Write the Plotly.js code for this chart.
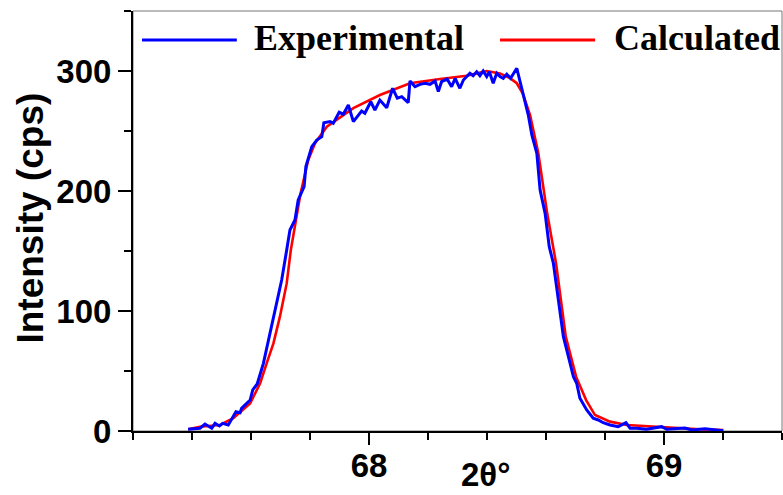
<!DOCTYPE html>
<html>
<head>
<meta charset="utf-8">
<script src="https://cdn.plot.ly/plotly-3.0.1.min.js"></script>
<style>html,body{margin:0;padding:0;background:#fff;}#chart{width:783px;height:495px;}</style>
</head>
<body>
<div id="chart"></div>
<script>
// Experimental pattern (2theta in degrees, intensity in cps)
var expX = [67.387, 67.427, 67.444, 67.467, 67.478, 67.493, 67.504, 67.523, 67.549, 67.563, 67.568, 67.597, 67.606, 67.621, 67.642, 67.659, 67.676, 67.693, 67.704, 67.721, 67.732, 67.749, 67.760, 67.780, 67.786, 67.806, 67.823, 67.840, 67.847, 67.868, 67.879, 67.899, 67.913, 67.930, 67.947, 67.975, 67.986, 68.006, 68.020, 68.037, 68.060, 68.080, 68.096, 68.111, 68.133, 68.139, 68.156, 68.173, 68.190, 68.207, 68.224, 68.235, 68.246, 68.265, 68.280, 68.292, 68.308, 68.320, 68.342, 68.353, 68.365, 68.376, 68.387, 68.399, 68.408, 68.421, 68.433, 68.444, 68.455, 68.467, 68.480, 68.501, 68.512, 68.523, 68.540, 68.552, 68.569, 68.580, 68.597, 68.611, 68.625, 68.642, 68.659, 68.676, 68.693, 68.704, 68.715, 68.738, 68.760, 68.777, 68.794, 68.817, 68.845, 68.871, 68.885, 68.907, 68.941, 68.992, 69.009, 69.071, 69.094, 69.139, 69.201];
var expY = [1.4, 2.3, 5.8, 2.3, 6.4, 4.2, 6.4, 5.0, 16.1, 15.2, 18.9, 25.8, 34.2, 39.2, 56.4, 75.8, 92.5, 111.9, 125.8, 150.8, 167.5, 175.8, 192.5, 203.6, 220.3, 237.0, 242.5, 245.3, 256.9, 257.8, 256.4, 265.6, 264.0, 271.7, 257.8, 266.7, 264.8, 274.4, 267.5, 275.8, 269.4, 285.6, 277.3, 278.6, 273.6, 291.7, 286.9, 288.9, 289.8, 288.9, 291.7, 282.8, 291.1, 293.3, 286.9, 293.9, 285.6, 292.5, 298.1, 296.1, 299.4, 296.1, 300.0, 295.3, 299.4, 289.8, 298.1, 295.3, 293.9, 297.3, 293.9, 302.3, 291.1, 280.0, 263.3, 246.7, 231.4, 200.8, 181.4, 153.6, 139.8, 109.2, 78.6, 61.9, 45.3, 39.8, 27.3, 17.5, 10.6, 9.2, 6.9, 5.0, 3.6, 6.9, 2.3, 2.3, 1.4, 3.6, 1.4, 2.5, 0.8, 1.9, 0.3];

// Calculated profile
var calcX = [67.387, 67.427, 67.495, 67.540, 67.597, 67.631, 67.653, 67.676, 67.698, 67.721, 67.735, 67.749, 67.768, 67.794, 67.817, 67.857, 67.947, 68.037, 68.139, 68.241, 68.331, 68.399, 68.444, 68.478, 68.501, 68.521, 68.546, 68.574, 68.604, 68.634, 68.667, 68.702, 68.736, 68.766, 68.817, 68.874, 69.009, 69.122, 69.201];
var calcY = [1.4, 3.6, 5.0, 10.6, 23.0, 39.8, 56.4, 73.0, 95.3, 123.0, 150.8, 170.3, 198.0, 225.8, 239.8, 253.6, 269.0, 280.0, 289.8, 293.3, 296.1, 300.0, 298.0, 294.0, 289.8, 281.4, 263.3, 231.4, 181.4, 139.8, 78.6, 45.3, 25.8, 13.3, 7.8, 5.0, 2.8, 1.4, 0.8];

var seriesNames = ['Experimental', 'Calculated'];
var yTickVals = [0, 100, 200, 300];
var yTickText = ['0', '100', '200', '300'];
var xTickVals = [68, 69];
var xTickText = ['68', '69'];

var tickFont = {family: 'Liberation Sans, Arial, sans-serif', size: 33, color: '#000', weight: 'bold'};
var legendFont = {family: 'Liberation Serif, Times New Roman, serif', size: 36, color: '#000'};

var traces = [
  {x: calcX, y: calcY, type: 'scatter', mode: 'lines', name: seriesNames[1],
   line: {color: '#ff0000', width: 2.6}, showlegend: false},
  {x: expX, y: expY, type: 'scatter', mode: 'lines', name: seriesNames[0],
   line: {color: '#0000ff', width: 3}, showlegend: false}
];

var layout = {
  width: 783, height: 495,
  margin: {l: 133, r: 1, t: 11, b: 64},
  paper_bgcolor: '#fff', plot_bgcolor: '#fff',
  showlegend: false,
  xaxis: {
    range: [67.2, 69.4], showgrid: false, zeroline: false,
    tickmode: 'array', tickvals: xTickVals, ticktext: xTickText,
    ticks: 'outside', ticklen: 12, tickwidth: 2, tickcolor: '#000',
    minor: {tickmode: 'linear', tick0: 67.2, dtick: 0.2, ticks: 'outside', ticklen: 7, tickwidth: 2, tickcolor: '#000', showgrid: false},
    showline: true, linecolor: '#000', linewidth: 2,
    tickfont: tickFont, ticklabelstandoff: -8
  },
  yaxis: {
    range: [0, 350], showgrid: false, zeroline: false,
    tickmode: 'array', tickvals: yTickVals, ticktext: yTickText,
    ticks: 'outside', ticklen: 13, tickwidth: 2, tickcolor: '#000',
    minor: {tickmode: 'linear', tick0: 0, dtick: 50, ticks: 'outside', ticklen: 7, tickwidth: 2, tickcolor: '#000', showgrid: false},
    showline: true, linecolor: '#000', linewidth: 2,
    tickfont: tickFont
  },
  shapes: [
    {type: 'rect', xref: 'paper', yref: 'paper', x0: 0, x1: 1, y0: 0, y1: 1,
     line: {color: '#777', width: 1}, layer: 'below'},
    {type: 'line', xref: 'paper', yref: 'paper', x0: 0.0139, x1: 0.160, y0: 0.931, y1: 0.931,
     line: {color: '#0000ff', width: 3}},
    {type: 'line', xref: 'paper', yref: 'paper', x0: 0.5655, x1: 0.712, y0: 0.931, y1: 0.931,
     line: {color: '#ff0000', width: 3}}
  ],
  annotations: [
    {text: '<b>' + seriesNames[0] + '</b>', xref: 'paper', yref: 'paper', x: 0.183, y: 0.936,
     xanchor: 'left', yanchor: 'middle', showarrow: false, font: legendFont},
    {text: '<b>' + seriesNames[1] + '</b>', xref: 'paper', yref: 'paper', x: 0.738, y: 0.936,
     xanchor: 'left', yanchor: 'middle', showarrow: false, font: legendFont},
    {text: '<b>Intensity (cps)</b>', xref: 'paper', yref: 'paper', x: -0.158, y: 0.507,
     xanchor: 'center', yanchor: 'middle', textangle: -90, showarrow: false,
     font: {family: 'Liberation Sans, Arial, sans-serif', size: 37, color: '#000'}},
    {text: '<b>2θ°</b>', xref: 'paper', yref: 'paper', x: 0.5424, y: -0.153,
     xanchor: 'center', yanchor: 'bottom', showarrow: false,
     font: {family: 'Liberation Sans, Arial, sans-serif', size: 33, color: '#000'}}
  ]
};

Plotly.newPlot('chart', traces, layout, {displayModeBar: false, staticPlot: true});
</script>
</body>
</html>
